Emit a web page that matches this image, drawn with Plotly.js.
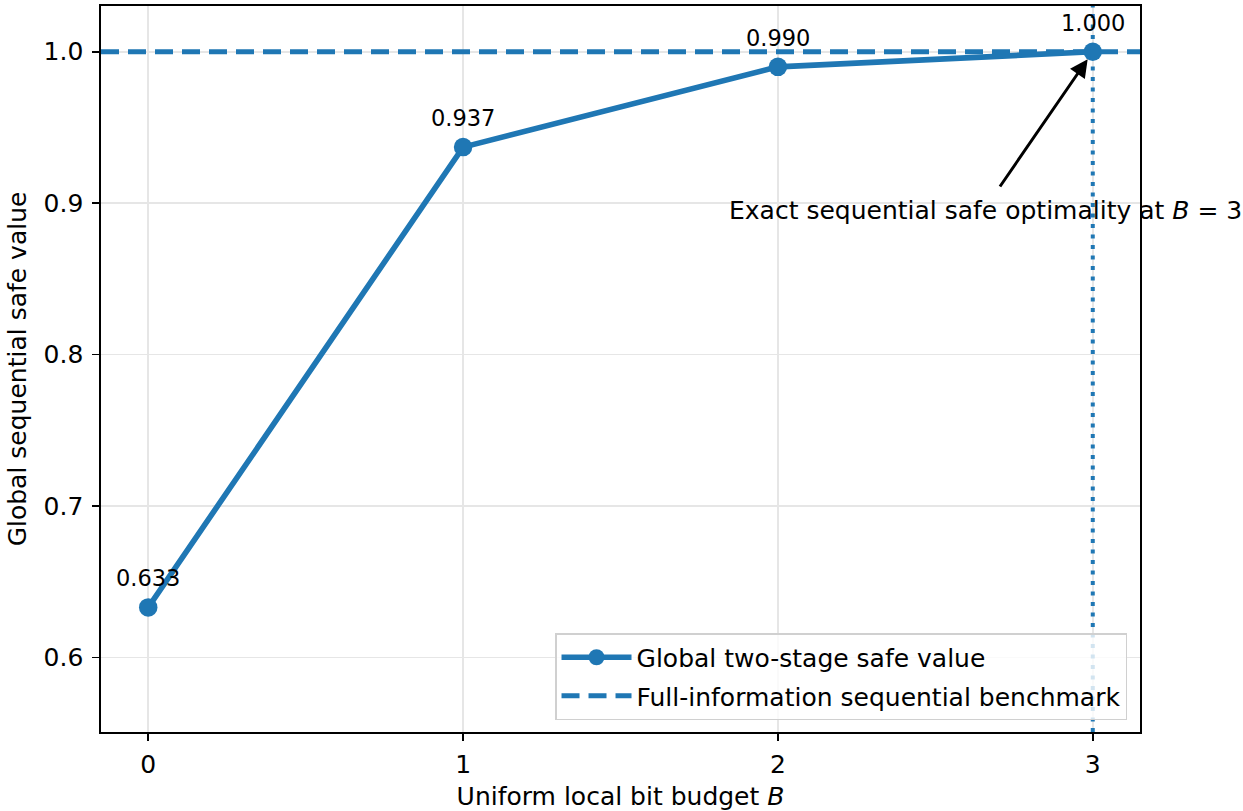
<!DOCTYPE html>
<html>
<head>
<meta charset="utf-8">
<script src="https://cdn.plot.ly/plotly-3.0.1.min.js"></script>
<style>
  html, body { margin: 0; padding: 0; background: #ffffff; }
  #chart { width: 1243px; height: 811px; }
</style>
</head>
<body>
<div id="chart"></div>
<script>
// Uniform local bit budget B and the resulting global two-stage safe value
const budgets = [0, 1, 2, 3];
const safeValues = [0.633, 0.937, 0.990, 1.000];
const valueLabels = ['0.633', '0.937', '0.990', '1.000'];

// Full-information sequential benchmark and the budget where it is reached
const benchmark = 1.0;
const exactBudget = 3;

const xTicks = [0, 1, 2, 3];
const xTickText = ['0', '1', '2', '3'];
const yTicks = [0.6, 0.7, 0.8, 0.9, 1.0];
const yTickText = ['0.6', '0.7', '0.8', '0.9', '1.0'];

const blue = '#1f77b4';
const font = 'DejaVu Sans, sans-serif';
const fs = 25;
const fsValue = 22.5;

const traces = [
  {
    x: budgets,
    y: safeValues,
    type: 'scatter',
    mode: 'lines+markers',
    name: 'Global two-stage safe value',
    legendgroup: 'a',
    line: { color: blue, width: 5.6 },
    marker: { color: blue, size: 18.5 },
    cliponaxis: false
  },
  {
    // legend entry for the benchmark line drawn as a shape
    x: [null],
    y: [null],
    type: 'scatter',
    mode: 'lines',
    name: 'Full-information sequential benchmark',
    legendgroup: 'b',
    line: { color: blue, width: 5, dash: '18px,9px' }
  }
];

const annotations = budgets.map((b, i) => ({
  x: b,
  y: safeValues[i],
  xref: 'x',
  yref: 'y',
  text: valueLabels[i],
  showarrow: false,
  xanchor: 'center',
  yanchor: 'middle',
  yshift: 29,
  font: { family: font, size: fsValue, color: '#000000' }
}));

// arrow pointing at the exact-optimality point
annotations.push({
  x: exactBudget,
  y: benchmark,
  xref: 'x',
  yref: 'y',
  ax: 2.702,
  ay: 0.910,
  axref: 'x',
  ayref: 'y',
  text: '',
  showarrow: true,
  arrowhead: 2,
  arrowsize: 1.2,
  arrowwidth: 3,
  arrowcolor: '#000000',
  standoff: 9
});
annotations.push({
  x: 2.659,
  y: 0.8954,
  xref: 'x',
  yref: 'y',
  text: 'Exact sequential safe optimality at <i>B</i> = 3',
  showarrow: false,
  xanchor: 'center',
  yanchor: 'middle',
  font: { family: font, size: fs, color: '#000000' }
});

const shapes = [
  {
    type: 'line',
    xref: 'paper', x0: 0, x1: 1,
    yref: 'y', y0: benchmark, y1: benchmark,
    line: { color: blue, width: 5, dash: '18px,9px' },
    layer: 'above'
  },
  {
    type: 'line',
    xref: 'x', x0: exactBudget, x1: exactBudget,
    yref: 'paper', y0: 0, y1: 1,
    line: { color: blue, width: 4, dash: '4px,6.5px' },
    layer: 'above'
  }
];

const axisCommon = {
  showline: true,
  linecolor: '#000000',
  linewidth: 1.7,
  mirror: true,
  ticks: 'outside',
  ticklen: 7,
  tickwidth: 1.7,
  tickcolor: '#000000',
  showgrid: true,
  gridcolor: '#e6e6e6',
  gridwidth: 1.6,
  zeroline: false,
  tickfont: { family: font, size: fs, color: '#000000' }
};

const layout = {
  width: 1243,
  height: 811,
  margin: { l: 101, r: 103, t: 6, b: 79 },
  paper_bgcolor: '#ffffff',
  plot_bgcolor: '#ffffff',
  font: { family: font, size: fs, color: '#000000' },
  showlegend: true,
  legend: {
    x: 0.9875,
    y: 0.0165,
    xanchor: 'right',
    yanchor: 'bottom',
    bgcolor: 'rgba(255,255,255,0.8)',
    bordercolor: '#d0d0d0',
    borderwidth: 1.5,
    traceorder: 'grouped',
    tracegroupgap: 3,
    itemwidth: 70,
    font: { family: font, size: fs, color: '#000000' }
  },
  xaxis: Object.assign({}, axisCommon, {
    range: [-0.15, 3.15],
    tickvals: xTicks,
    ticktext: xTickText,
    ticklabelstandoff: 2,
    title: {
      text: 'Uniform local bit budget <i>B</i>',
      font: { family: font, size: fs, color: '#000000' },
      standoff: 11
    }
  }),
  yaxis: Object.assign({}, axisCommon, {
    range: [0.5507, 1.0302],
    tickvals: yTicks,
    ticktext: yTickText,
    ticklabelstandoff: 4,
    title: {
      text: 'Global sequential safe value',
      font: { family: font, size: fs, color: '#000000' },
      standoff: 10
    }
  }),
  annotations: annotations,
  shapes: shapes
};

Plotly.newPlot('chart', traces, layout, { displayModeBar: false, staticPlot: true });
</script>
</body>
</html>
